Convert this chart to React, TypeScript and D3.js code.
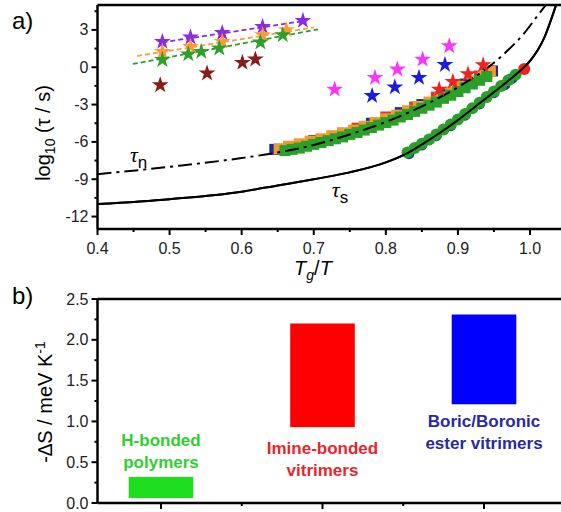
import React from "react";
import * as d3 from "d3";

// ---- panel a data ----
const tauST = [0.4, 0.5, 0.6, 0.65, 0.7, 0.75, 0.8, 0.83, 0.86, 0.9, 0.93, 0.96, 0.98, 0.99, 1.0, 1.02, 1.035, 1.045];
const tauSLog = [-11.0, -10.6, -10.0, -9.5, -9.0, -8.45, -7.65, -6.9, -5.85, -4.25, -2.9, -1.55, -0.6, -0.1, 0.5, 2.4, 4.8, 6.6];

const tauNT = [0.4, 0.5, 0.6, 0.65, 0.7, 0.75, 0.8, 0.85, 0.9, 0.94, 0.97, 0.99, 1.01, 1.03];
const tauNLog = [-8.6, -8.0, -7.3, -6.85, -6.25, -5.4, -4.4, -3.15, -1.6, -0.1, 1.4, 2.6, 4.1, 5.6];

const greenSqT = [0.66, 0.67, 0.68, 0.69, 0.7, 0.71, 0.72, 0.73, 0.74, 0.75, 0.76, 0.77, 0.78, 0.79, 0.8, 0.81, 0.82, 0.83, 0.84, 0.85, 0.86, 0.87, 0.88, 0.89, 0.9, 0.91, 0.92, 0.93, 0.94];
const greenSqLog = [-6.7, -6.6, -6.5, -6.35, -6.2, -6.05, -5.9, -5.75, -5.6, -5.4, -5.25, -5.05, -4.85, -4.65, -4.45, -4.25, -4.0, -3.8, -3.55, -3.3, -3.05, -2.8, -2.5, -2.25, -1.95, -1.65, -1.35, -1.05, -0.75];

const orangeSqT = [0.652, 0.665, 0.68, 0.695, 0.71, 0.725, 0.74, 0.755, 0.77, 0.785, 0.8, 0.815, 0.83, 0.845, 0.86, 0.875, 0.89, 0.905, 0.92, 0.935, 0.945];
const orangeSqLog = [-6.55, -6.35, -6.15, -5.95, -5.75, -5.5, -5.3, -5.05, -4.75, -4.45, -4.15, -3.85, -3.5, -3.15, -2.8, -2.4, -2.0, -1.55, -1.1, -0.65, -0.35];

const blueSqT = [0.646, 0.7, 0.74, 0.78, 0.82, 0.85, 0.88, 0.91, 0.94, 0.948];
const blueSqLog = [-6.6, -5.9, -5.3, -4.5, -3.65, -3.0, -2.2, -1.35, -0.5, -0.3];

const redSqT = [0.76, 0.8, 0.84, 0.87, 0.9, 0.93];
const redSqLog = [-4.9, -4.0, -3.2, -2.4, -1.5, -0.7];

const greenCirT = [0.83, 0.84, 0.85, 0.86, 0.87, 0.88, 0.89, 0.9, 0.91, 0.92, 0.93, 0.94, 0.95, 0.96, 0.97, 0.98];
const greenCirLog = [-6.85, -6.5, -6.15, -5.8, -5.4, -5.0, -4.6, -4.2, -3.75, -3.3, -2.85, -2.4, -1.95, -1.5, -1.05, -0.6];

const blueCirT = [0.832, 0.85, 0.87, 0.89, 0.91, 0.93, 0.95, 0.965, 0.975];
const blueCirLog = [-6.95, -6.25, -5.5, -4.7, -3.85, -2.95, -2.05, -1.4, -0.9];

const redCirT = [0.992];
const redCirLog = [-0.15];

const purpleStarT = [0.49, 0.529, 0.573, 0.629, 0.685];
const purpleStarLog = [2.05, 2.4, 2.77, 3.26, 3.74];
const orangeStarT = [0.49, 0.529, 0.573, 0.629, 0.662];
const orangeStarLog = [1.25, 1.65, 2.05, 2.6, 3.0];
const greenStarT = [0.49, 0.526, 0.544, 0.569, 0.626, 0.657];
const greenStarLog = [0.6, 1.05, 1.25, 1.52, 2.0, 2.59];
const darkRedStarT = [0.487, 0.552, 0.601, 0.619];
const darkRedStarLog = [-1.43, -0.49, 0.37, 0.64];
const magentaStarT = [0.729, 0.785, 0.816, 0.851, 0.888];
const magentaStarLog = [-1.78, -0.84, -0.17, 0.63, 1.7];
const blueStarT = [0.781, 0.8125, 0.846, 0.882];
const blueStarLog = [-2.3, -1.6, -0.84, 0.2];
const redStarT = [0.874, 0.893, 0.914, 0.935];
const redStarLog = [-1.78, -1.16, -0.55, 0.18];

const purpleFitT = [0.49, 0.69];
const purpleFitLog = [2.0, 3.75];
const orangeFitT = [0.455, 0.7];
const orangeFitLog = [0.9, 3.2];
const greenFitT = [0.449, 0.706];
const greenFitLog = [0.26, 3.05];

const xTicksA = [0.4, 0.5, 0.6, 0.7, 0.8, 0.9, 1.0];
const xMinorA = [0.45, 0.55, 0.65, 0.75, 0.85, 0.95, 1.05];
const yTicksA = [-12, -9, -6, -3, 0, 3];
const yMinorA = [-10.5, -7.5, -4.5, -1.5, 1.5, 4.5];

// ---- panel b data ----
const categories = ["H-bonded polymers", "Imine-bonded vitrimers", "Boric/Boronic ester vitrimers"];
const catPos = [1, 2, 3];
const barLow = [0.06, 0.93, 1.21];
const barHigh = [0.32, 2.2, 2.31];
const barColors = ["#1fdd1f", "#ff0000", "#0000ff"];
const labelColors = ["#2fcf2f", "#e8262b", "#2a2a9c"];
const labelLines = [["H-bonded", "polymers"], ["Imine-bonded", "vitrimers"], ["Boric/Boronic", "ester vitrimers"]];
const yTicksB = [0, 0.5, 1.0, 1.5, 2.0, 2.5];
const yMinorB = [0.25, 0.75, 1.25, 1.75, 2.25];
const xMinorB = [1.5, 2.5];

const FONT = "Arial, 'Liberation Sans', Helvetica, sans-serif";
const SERIF = "'Liberation Serif', 'Times New Roman', serif";

const zip = (a: number[], b: number[]) => a.map((v, i) => [v, b[i]] as [number, number]);

export default function App() {
  const xA = d3.scaleLinear().domain([0.4, 1.0]).range([97.5, 530]);
  const yA = d3.scaleLinear().domain([-13, 5]).range([229, 5]);
  const xB = d3.scaleLinear().domain([1, 3]).range([161, 484]);
  const yB = d3.scaleLinear().domain([0, 2.5]).range([503, 299]);

  const curve = d3
    .line<[number, number]>()
    .x((d) => xA(d[0]))
    .y((d) => yA(d[1]))
    .curve(d3.curveMonotoneX);
  const straight = d3
    .line<[number, number]>()
    .x((d) => xA(d[0]))
    .y((d) => yA(d[1]));

  const star = d3.symbol().type(d3.symbolStar).size(88)()!;
  const sq = 11;

  const stars = (t: number[], v: number[], fill: string) =>
    zip(t, v).map((d, i) => (
      <path key={i} d={star} transform={`translate(${xA(d[0])},${yA(d[1])})`} fill={fill} />
    ));
  const squares = (t: number[], v: number[], fill: string) =>
    zip(t, v).map((d, i) => (
      <rect key={i} x={xA(d[0]) - sq / 2} y={yA(d[1]) - sq / 2} width={sq} height={sq} fill={fill} />
    ));
  const circles = (t: number[], v: number[], fill: string, r: number) =>
    zip(t, v).map((d, i) => <circle key={i} cx={xA(d[0])} cy={yA(d[1])} r={r} fill={fill} />);

  const right = 563;

  return (
    <svg width={561} height={512} style={{ position: "absolute", left: 0, top: 0, background: "#fff" }}>
      <defs>
        <clipPath id="clipA">
          <rect x={xA(0.4)} y={5} width={right - xA(0.4)} height={224} />
        </clipPath>
      </defs>

      {/* ---------- panel a ---------- */}
      <text x={12} y={29} fontFamily={FONT} fontSize={24}>a)</text>

      <g clipPath="url(#clipA)">
        <path d={curve(zip(tauST, tauSLog))!} fill="none" stroke="#000" strokeWidth={2} />

        {squares(blueSqT, blueSqLog, "#1e2a9e")}
        {squares(redSqT, redSqLog, "#d63a2a")}
        {squares(orangeSqT, orangeSqLog, "#f39a2c")}
        {squares(greenSqT, greenSqLog, "#2a9f2a")}
        <path d={curve(zip(tauNT, tauNLog))!} fill="none" stroke="#000" strokeWidth={2} strokeDasharray="14,5,3,5" />

        {circles(blueCirT, blueCirLog, "#1e2a9e", 5.5)}
        {circles(greenCirT, greenCirLog, "#2a9f2a", 6)}
        {circles(redCirT, redCirLog, "#ee2020", 6)}
        <path d={curve(zip(tauST, tauSLog))!} fill="none" stroke="#000" strokeWidth={2} />

        <path d={straight(zip(greenFitT, greenFitLog))!} fill="none" stroke="#2ca02c" strokeWidth={1.8} strokeDasharray="5,3" />
        <path d={straight(zip(orangeFitT, orangeFitLog))!} fill="none" stroke="#f0a040" strokeWidth={1.8} strokeDasharray="5,3" />
        <path d={straight(zip(purpleFitT, purpleFitLog))!} fill="none" stroke="#8a2be2" strokeWidth={1.8} strokeDasharray="5,3" />

        {stars(purpleStarT, purpleStarLog, "#8a2be2")}
        {stars(orangeStarT, orangeStarLog, "#ff9a33")}
        {stars(greenStarT, greenStarLog, "#2ca02c")}
        {stars(darkRedStarT, darkRedStarLog, "#8b1a1a")}
        {stars(magentaStarT, magentaStarLog, "#ff33ff")}
        {stars(blueStarT, blueStarLog, "#1a1ae0")}
        {stars(redStarT, redStarLog, "#ee2222")}
      </g>

      <text x={xA(0.445)} y={yA(-7.6)} fontFamily={SERIF} fontStyle="italic" fontSize={22}>
        τ<tspan fontFamily={FONT} fontStyle="normal" fontSize={17} dy={6}>n</tspan>
      </text>
      <text x={xA(0.725)} y={yA(-10.4)} fontFamily={SERIF} fontStyle="italic" fontSize={22}>
        τ<tspan fontFamily={FONT} fontStyle="normal" fontSize={17} dy={6}>s</tspan>
      </text>

      {/* frame a */}
      <g stroke="#000" strokeWidth={2.5} fill="none">
        <line x1={xA(0.4)} x2={right} y1={5} y2={5} />
        <line x1={xA(0.4)} x2={right} y1={229} y2={229} />
        <line x1={xA(0.4)} x2={xA(0.4)} y1={5} y2={229} />
      </g>
      <g stroke="#000" strokeWidth={2}>
        {xTicksA.map((t) => <line key={t} x1={xA(t)} x2={xA(t)} y1={229} y2={235} />)}
        {xMinorA.map((t) => <line key={t} x1={xA(t)} x2={xA(t)} y1={229} y2={232} />)}
        {yTicksA.map((t) => <line key={t} x1={xA(0.4) - 6} x2={xA(0.4)} y1={yA(t)} y2={yA(t)} />)}
        {yMinorA.map((t) => <line key={t} x1={xA(0.4) - 3} x2={xA(0.4)} y1={yA(t)} y2={yA(t)} />)}
      </g>
      <g fontFamily={FONT} fontSize={16} fill="#222">
        {xTicksA.map((t) => (
          <text key={t} x={xA(t)} y={254} textAnchor="middle">{d3.format(".1f")(t)}</text>
        ))}
        {yTicksA.map((t) => (
          <text key={t} x={xA(0.4) - 9} y={yA(t) + 5.5} textAnchor="end">{t}</text>
        ))}
      </g>
      <text x={313} y={275} fontFamily={FONT} fontSize={20} textAnchor="middle">
        <tspan fontStyle="italic">T</tspan>
        <tspan fontSize={14} dy={5} fontStyle="italic">g</tspan>
        <tspan dy={-5}>/</tspan>
        <tspan fontStyle="italic">T</tspan>
      </text>
      <text transform={`translate(50,133) rotate(-90)`} fontFamily={FONT} fontSize={20} textAnchor="middle">
        log<tspan fontSize={14} dy={5}>10</tspan><tspan dy={-5}> (τ / s)</tspan>
      </text>

      {/* ---------- panel b ---------- */}
      <text x={12} y={304} fontFamily={FONT} fontSize={24}>b)</text>

      {catPos.map((c, i) => (
        <rect
          key={categories[i]}
          x={xB(c - 0.2)}
          y={yB(barHigh[i])}
          width={xB(c + 0.2) - xB(c - 0.2)}
          height={yB(barLow[i]) - yB(barHigh[i])}
          fill={barColors[i]}
        />
      ))}
      {catPos.map((c, i) => {
        const base = [446, 454, 427][i];
        return (
          <text key={i} x={xB(c)} y={base} textAnchor="middle" fontFamily={FONT} fontWeight="bold" fontSize={17} fill={labelColors[i]}>
            <tspan x={xB(c)}>{labelLines[i][0]}</tspan>
            <tspan x={xB(c)} dy={22}>{labelLines[i][1]}</tspan>
          </text>
        );
      })}

      <g stroke="#000" strokeWidth={2.5} fill="none">
        <line x1={xA(0.4)} x2={right} y1={299} y2={299} />
        <line x1={xA(0.4)} x2={right} y1={503} y2={503} />
        <line x1={xA(0.4)} x2={xA(0.4)} y1={299} y2={503} />
      </g>
      <g stroke="#000" strokeWidth={2}>
        {catPos.map((t) => <line key={t} x1={xB(t)} x2={xB(t)} y1={503} y2={509} />)}
        {xMinorB.map((t) => <line key={t} x1={xB(t)} x2={xB(t)} y1={503} y2={506} />)}
        {yTicksB.map((t) => <line key={t} x1={xA(0.4) - 6} x2={xA(0.4)} y1={yB(t)} y2={yB(t)} />)}
        {yMinorB.map((t) => <line key={t} x1={xA(0.4) - 3} x2={xA(0.4)} y1={yB(t)} y2={yB(t)} />)}
      </g>
      <g fontFamily={FONT} fontSize={16} fill="#222">
        {yTicksB.map((t) => (
          <text key={t} x={xA(0.4) - 9} y={yB(t) + 5.5} textAnchor="end">{d3.format(".1f")(t)}</text>
        ))}
      </g>
      <text transform={`translate(52,402) rotate(-90)`} fontFamily={FONT} fontSize={20} textAnchor="middle">
        -<tspan fontStyle="italic">∆</tspan>S / meV K<tspan fontSize={14} dy={-7}>-1</tspan>
      </text>
    </svg>
  );
}
